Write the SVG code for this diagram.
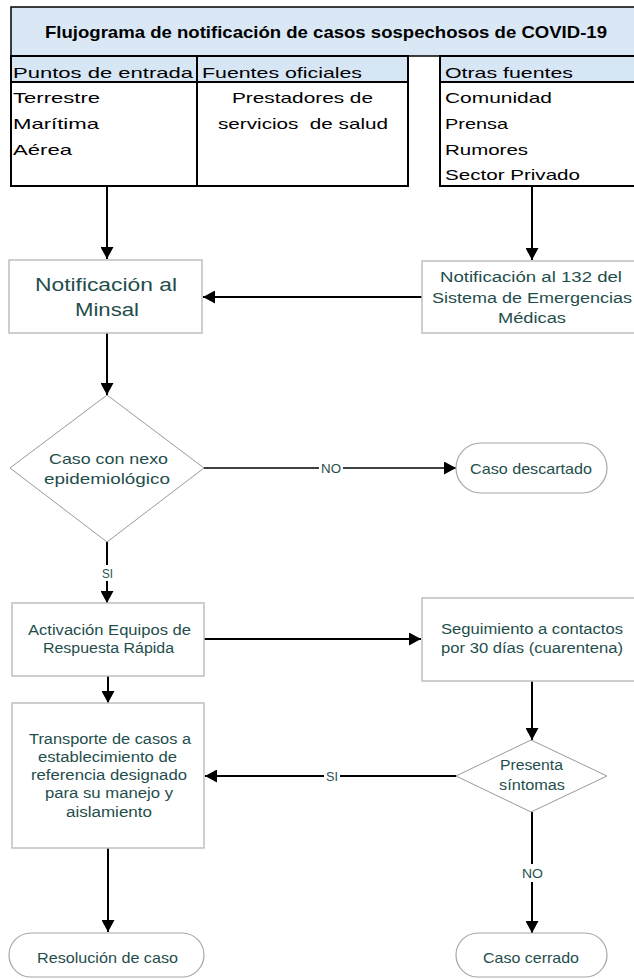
<svg xmlns="http://www.w3.org/2000/svg" width="634" height="979" viewBox="0 0 634 979">
<style>
.tb{font-family:"Liberation Sans",Arial,sans-serif;font-size:15px;fill:#000}
.tt{font-family:"Liberation Sans",Arial,sans-serif;font-size:17px;font-weight:bold;fill:#000}
.nt{font-family:"Liberation Sans",Arial,sans-serif;font-size:14px;fill:#1f4e4c}
.nl{font-size:15px}
.nx{font-size:17.5px}
.lb{font-family:"Liberation Sans",Arial,sans-serif;font-size:13px;fill:#1f4e4c}
.hdr{fill:#d7e6f4;stroke:#000;stroke-width:2}
.cell{fill:#fff;stroke:#000;stroke-width:2}
.box{fill:#fff;stroke:#bfbfbf;stroke-width:1.5}
.dia{fill:#fff;stroke:#999;stroke-width:1}
.stad{fill:#fff;stroke:#a6a6a6;stroke-width:1.2}
.con{fill:none;stroke:#000;stroke-width:2;marker-end:url(#ah)}
.thin{stroke-width:1.5}
.lbg{fill:#fff}
</style>
<defs>
<marker id="ah" viewBox="0 0 12 13" refX="12" refY="6.5" markerWidth="12" markerHeight="13" markerUnits="userSpaceOnUse" orient="auto">
<path d="M0,0 L12,6.5 L0,13 z" fill="#000"/>
</marker>
</defs>
<rect width="634" height="979" fill="#fff"/>

<g id="table">
<rect x="11" y="7" width="630" height="49" fill="#dae8f5" stroke="#000" stroke-width="1.5"/>
<text class="tt" x="45" y="38" textLength="562" lengthAdjust="spacingAndGlyphs">Flujograma de notificación de casos sospechosos de COVID-19</text>
<rect class="hdr" x="11" y="56" width="186" height="26"/>
<rect class="hdr" x="197" y="56" width="211" height="26"/>
<rect class="hdr" x="440" y="56" width="200" height="26"/>
<rect class="cell" x="11" y="82" width="186" height="104"/>
<rect class="cell" x="197" y="82" width="211" height="104"/>
<rect class="cell" x="440" y="82" width="200" height="104"/>
<text class="tb" x="13" y="78" textLength="180" lengthAdjust="spacingAndGlyphs">Puntos de entrada</text>
<text class="tb" x="202" y="78" textLength="160" lengthAdjust="spacingAndGlyphs">Fuentes oficiales</text>
<text class="tb" x="445" y="78" textLength="128" lengthAdjust="spacingAndGlyphs">Otras fuentes</text>
<text class="tb" x="13" y="103" textLength="87" lengthAdjust="spacingAndGlyphs">Terrestre</text>
<text class="tb" x="13" y="129" textLength="86" lengthAdjust="spacingAndGlyphs">Marítima</text>
<text class="tb" x="13" y="155" textLength="59" lengthAdjust="spacingAndGlyphs">Aérea</text>
<text class="tb" x="232" y="103" textLength="141" lengthAdjust="spacingAndGlyphs">Prestadores de</text>
<text class="tb" x="218" y="129" textLength="170" lengthAdjust="spacingAndGlyphs" xml:space="preserve">servicios  de salud</text>
<text class="tb" x="445" y="103" textLength="107" lengthAdjust="spacingAndGlyphs">Comunidad</text>
<text class="tb" x="445" y="129" textLength="63" lengthAdjust="spacingAndGlyphs">Prensa</text>
<text class="tb" x="445" y="155" textLength="83" lengthAdjust="spacingAndGlyphs">Rumores</text>
<text class="tb" x="445" y="180" textLength="135" lengthAdjust="spacingAndGlyphs">Sector Privado</text>
</g>

<g id="connectors">
<path class="con" d="M107,186 V259"/>
<path class="con" d="M532,186 V260"/>
<path class="con" d="M422,297 H203"/>
<path class="con" d="M107,333 V395"/>
<path class="con thin" d="M204,468 H456"/>
<path class="con" d="M107,542 V603"/>
<path class="con" d="M204,639 H421"/>
<path class="con" d="M108,676 V703"/>
<path class="con" d="M532,681 V740"/>
<path class="con" d="M456,776 H205"/>
<path class="con" d="M532,812 V933"/>
<path class="con" d="M108,848 V932"/>
<rect class="lbg" x="319" y="461" width="24" height="14"/>
<text class="lb" x="321" y="473" textLength="20" lengthAdjust="spacingAndGlyphs">NO</text>
<rect class="lbg" x="100" y="565" width="16" height="16"/>
<text class="lb" x="102" y="578" textLength="11" lengthAdjust="spacingAndGlyphs">SI</text>
<rect class="lbg" x="324" y="769" width="16" height="14"/>
<text class="lb" x="326" y="781" textLength="12" lengthAdjust="spacingAndGlyphs">SI</text>
<rect class="lbg" x="520" y="864" width="25" height="18"/>
<text class="lb" x="522" y="878" textLength="21" lengthAdjust="spacingAndGlyphs">NO</text>
</g>

<g id="n-minsal">
<rect class="box" x="9" y="260" width="193" height="73"/>
<text class="nt nx" x="35" y="291" textLength="142" lengthAdjust="spacingAndGlyphs">Notificación al</text>
<text class="nt nx" x="75" y="316" textLength="64" lengthAdjust="spacingAndGlyphs">Minsal</text>
</g>

<g id="n-132">
<rect class="box" x="422" y="261" width="215" height="72"/>
<text class="nt" x="440" y="282" textLength="182" lengthAdjust="spacingAndGlyphs">Notificación al 132 del</text>
<text class="nt" x="432" y="303" textLength="200" lengthAdjust="spacingAndGlyphs">Sistema de Emergencias</text>
<text class="nt" x="498" y="323" textLength="68" lengthAdjust="spacingAndGlyphs">Médicas</text>
</g>

<g id="n-nexo">
<polygon class="dia" points="107,395 204,468 107,542 10,468"/>
<text class="nt nl" x="49" y="464" textLength="119" lengthAdjust="spacingAndGlyphs">Caso con nexo</text>
<text class="nt nl" x="44" y="484" textLength="126" lengthAdjust="spacingAndGlyphs">epidemiológico</text>
</g>

<g id="n-descartado">
<rect class="stad" x="456" y="443" width="151" height="50" rx="25" ry="25"/>
<text class="nt nl" x="470" y="474" textLength="122" lengthAdjust="spacingAndGlyphs">Caso descartado</text>
</g>

<g id="n-activacion">
<rect class="box" x="12" y="603" width="192" height="73"/>
<text class="nt" x="28" y="635" textLength="163" lengthAdjust="spacingAndGlyphs">Activación Equipos de</text>
<text class="nt" x="43" y="653" textLength="131" lengthAdjust="spacingAndGlyphs">Respuesta Rápida</text>
</g>

<g id="n-seguimiento">
<rect class="box" x="422" y="598" width="215" height="83"/>
<text class="nt" x="441" y="634" textLength="182" lengthAdjust="spacingAndGlyphs">Seguimiento a contactos</text>
<text class="nt" x="441" y="653" textLength="182" lengthAdjust="spacingAndGlyphs">por 30 días (cuarentena)</text>
</g>

<g id="n-transporte">
<rect class="box" x="12" y="703" width="192" height="145"/>
<text class="nt" x="29" y="744" textLength="162" lengthAdjust="spacingAndGlyphs">Transporte de casos a</text>
<text class="nt" x="38" y="762" textLength="139" lengthAdjust="spacingAndGlyphs">establecimiento de</text>
<text class="nt" x="31" y="780" textLength="156" lengthAdjust="spacingAndGlyphs">referencia designado</text>
<text class="nt" x="45" y="798" textLength="128" lengthAdjust="spacingAndGlyphs">para su manejo y</text>
<text class="nt" x="66" y="817" textLength="86" lengthAdjust="spacingAndGlyphs">aislamiento</text>
</g>

<g id="n-sintomas">
<polygon class="dia" points="531,740 607,776 531,812 456,776"/>
<text class="nt" x="500" y="770" textLength="63" lengthAdjust="spacingAndGlyphs">Presenta</text>
<text class="nt" x="499" y="790" textLength="66" lengthAdjust="spacingAndGlyphs">síntomas</text>
</g>

<g id="n-resolucion">
<rect class="stad" x="9" y="933" width="195" height="44" rx="22" ry="22"/>
<text class="nt nl" x="37" y="963" textLength="141" lengthAdjust="spacingAndGlyphs">Resolución de caso</text>
</g>

<g id="n-cerrado">
<rect class="stad" x="456" y="933" width="151" height="44" rx="22" ry="22"/>
<text class="nt nl" x="483" y="963" textLength="96" lengthAdjust="spacingAndGlyphs">Caso cerrado</text>
</g>
</svg>
